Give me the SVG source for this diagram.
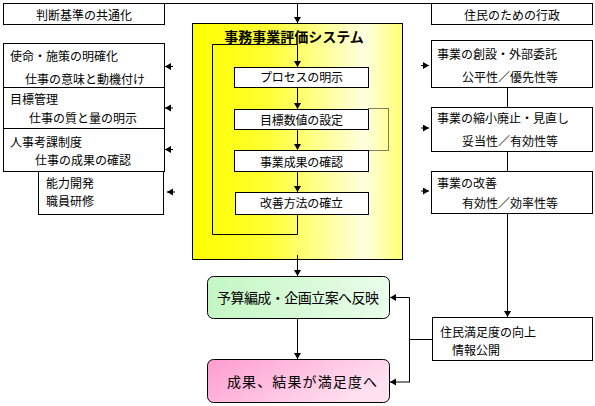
<svg xmlns="http://www.w3.org/2000/svg" width="595" height="406" viewBox="0 0 595 406">
<defs>
<style>
text{font-family:"Noto Sans CJK JP","Liberation Sans",sans-serif;font-size:12px;fill:#000}
.box{fill:#fff;stroke:#000;stroke-width:1}
.ln{fill:none;stroke:#000;stroke-width:1}
.arr{fill:none;stroke:#000;stroke-width:1;marker-end:url(#ah)}
.mid{text-anchor:middle}
.big{font-size:14px}
</style>
<marker id="ah" markerUnits="userSpaceOnUse" markerWidth="8" markerHeight="8" refX="6" refY="3.5" orient="auto">
<path d="M0,0 L6,3.5 L0,7 z" fill="#000"/>
</marker>
<linearGradient id="yel" x1="0" y1="0" x2="1" y2="0">
<stop offset="0" stop-color="#ffff00"/>
<stop offset="0.35" stop-color="#ffff30"/>
<stop offset="0.82" stop-color="#ffffe0"/>
<stop offset="1" stop-color="#ffff70"/>
</linearGradient>
<linearGradient id="grn" x1="0" y1="0" x2="1" y2="0">
<stop offset="0" stop-color="#c4f7c4"/>
<stop offset="1" stop-color="#eafdea"/>
</linearGradient>
<linearGradient id="pnk" x1="0" y1="0" x2="1" y2="0.4">
<stop offset="0" stop-color="#ff9ccf"/>
<stop offset="1" stop-color="#ffe0f0"/>
</linearGradient>
</defs>

<g id="yellow-system">
<rect x="192.5" y="23.5" width="210" height="236" fill="url(#yel)" stroke="#000"/>
<text x="294" y="42" class="mid big" font-weight="bold">事務事業評価システム</text>
</g>

<g id="left-top"><rect class="box" x="3.5" y="3.5" width="161" height="21"/><text x="84" y="19.5" class="mid">判断基準の共通化</text></g>
<g id="right-top"><rect class="box" x="431.5" y="3.5" width="161" height="21"/><text x="512" y="19.5" class="mid">住民のための行政</text></g>

<g id="left-1"><rect class="box" x="3.5" y="43.5" width="161" height="44"/><text x="10" y="60.5">使命・施策の明確化</text><text x="25" y="83.5">仕事の意味と動機付け</text></g>
<g id="left-2"><rect class="box" x="3.5" y="87.5" width="161" height="41"/><text x="10" y="103.5">目標管理</text><text x="29" y="123">仕事の質と量の明示</text></g>
<g id="left-3"><rect class="box" x="3.5" y="128.5" width="161" height="43"/><text x="10" y="146.5">人事考課制度</text><text x="35" y="165">仕事の成果の確認</text></g>
<g id="left-4"><rect class="box" x="38.5" y="171.5" width="125" height="43"/><text x="46" y="187.5">能力開発</text><text x="46" y="205.5">職員研修</text></g>

<g id="right-1"><rect class="box" x="431.5" y="40.5" width="161" height="47"/><text x="437" y="58.5">事業の創設・外部委託</text><text x="462" y="82">公平性／優先性等</text></g>
<g id="right-2"><rect class="box" x="431.5" y="107.5" width="161" height="44"/><text x="437" y="122.5">事業の縮小廃止・見直し</text><text x="462" y="145.5">妥当性／有効性等</text></g>
<g id="right-3"><rect class="box" x="431.5" y="171.5" width="161" height="42"/><text x="437" y="187.5">事業の改善</text><text x="462" y="208">有効性／効率性等</text></g>
<g id="right-4"><rect class="box" x="432.5" y="317.5" width="160" height="43"/><text x="440" y="336.5">住民満足度の向上</text><text x="452" y="355">情報公開</text></g>

<g id="step-1"><rect class="box" x="234.5" y="67.5" width="134" height="20"/><text x="301.5" y="82" class="mid" textLength="83" lengthAdjust="spacing">プロセスの明示</text></g>
<g id="step-2"><rect class="box" x="234.5" y="109.5" width="134" height="20"/><text x="301.5" y="125" class="mid" textLength="83" lengthAdjust="spacing">目標数値の設定</text></g>
<g id="step-3"><rect class="box" x="234.5" y="150.5" width="134" height="21"/><text x="301.5" y="167" class="mid" textLength="83" lengthAdjust="spacing">事業成果の確認</text></g>
<g id="step-4"><rect class="box" x="235.5" y="192.5" width="133" height="22"/><text x="301.5" y="208" class="mid" textLength="83" lengthAdjust="spacing">改善方法の確立</text></g>

<g id="budget"><rect x="207.5" y="276.5" width="182" height="42" rx="6" fill="url(#grn)" stroke="#000"/><text x="298" y="303" class="mid big" textLength="162" lengthAdjust="spacing">予算編成・企画立案へ反映</text></g>
<g id="satisfaction"><rect x="207.5" y="359.5" width="182" height="43" rx="6" fill="url(#pnk)" stroke="#000"/><text x="302" y="387" class="mid big" textLength="150" lengthAdjust="spacing">成果、結果が満足度へ</text></g>

<g id="connectors">
<line class="ln" x1="164.5" y1="3.5" x2="431.5" y2="3.5"/>
<line class="arr" x1="297.5" y1="3.5" x2="297.5" y2="23"/>
<polyline class="ln" points="297.5,214.5 297.5,234.5 212.5,234.5 212.5,44.5 297.5,44.5"/>
<line class="arr" x1="297.5" y1="44.5" x2="297.5" y2="67"/>
<line class="arr" x1="297.5" y1="87.5" x2="297.5" y2="109"/>
<line class="arr" x1="297.5" y1="129.5" x2="297.5" y2="150"/>
<line class="arr" x1="297.5" y1="171.5" x2="297.5" y2="192"/>
<polyline class="ln" points="368.5,108.5 388.5,108.5 388.5,150.5 368.5,150.5" stroke-dasharray="1,1"/>
<line class="arr" x1="297.5" y1="255" x2="297.5" y2="276"/>
<line class="arr" x1="297.5" y1="318.5" x2="297.5" y2="359"/>
<line class="ln" x1="507.5" y1="87.5" x2="507.5" y2="107.5"/>
<line class="ln" x1="507.5" y1="151.5" x2="507.5" y2="171.5"/>
<line class="arr" x1="507.5" y1="213.5" x2="507.5" y2="317"/>
<line class="ln" x1="432.5" y1="339.5" x2="409.5" y2="339.5"/>
<line class="ln" x1="409.5" y1="297.5" x2="409.5" y2="382.5"/>
<line class="arr" x1="409.5" y1="297.5" x2="390" y2="297.5"/>
<line class="arr" x1="409.5" y1="382" x2="390" y2="382"/>
<line class="arr" x1="173" y1="66.5" x2="165" y2="66.5"/>
<line class="arr" x1="173" y1="108" x2="165" y2="108"/>
<line class="arr" x1="173" y1="149.5" x2="165" y2="149.5"/>
<line class="arr" x1="175" y1="192" x2="167" y2="192"/>
<line class="arr" x1="421" y1="65.5" x2="429" y2="65.5"/>
<line class="arr" x1="421" y1="128" x2="429" y2="128"/>
<line class="arr" x1="421" y1="191" x2="429" y2="191"/>
</g>
</svg>
